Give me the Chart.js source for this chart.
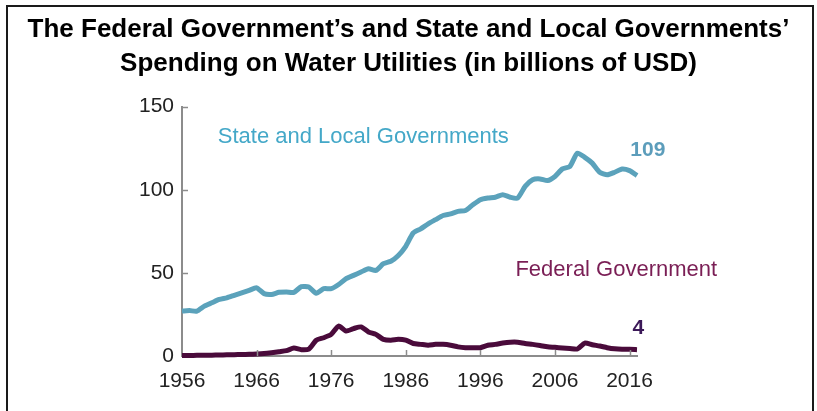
<!DOCTYPE html>
<html>
<head>
<meta charset="utf-8">
<script src="https://cdn.jsdelivr.net/npm/chart.js@4/dist/chart.umd.min.js"></script>
<style>
  html, body { margin: 0; padding: 0; background: #fff; }
  #wrap { position: relative; width: 817px; height: 411px; overflow: hidden; }
  #frame { position: absolute; left: 6px; top: 5px; width: 804px; height: 430px;
           border: 2px solid #1a1a1a; border-bottom: none; pointer-events: none; }
  canvas { position: absolute; left: 0; top: 0; }
</style>
</head>
<body>
<div id="wrap">
  <canvas id="chart" width="817" height="411"></canvas>
  <div id="frame"></div>
</div>
<script>
// years 1956..2017
const years = [];
for (let y = 1956; y <= 2017; y++) years.push(y);

// state and local spending, billions USD
const stateLocal = [
  27, 27.3, 27, 30, 32, 34, 35, 36.5, 38, 39.5,
  41, 37.5, 37, 38.3, 38.5, 38.3, 41.7, 41.5, 37.7, 40.5,
  40.5, 43, 46.5, 48.5, 50.5, 52.5, 51.5, 55.5, 57, 60.5,
  66, 74, 76.5, 79.5, 82, 84.5, 85.5, 87, 87.5, 91,
  94, 95, 95.5, 97, 95.5, 95, 102, 106, 106.5, 105.5,
  108, 112.5, 114, 122, 119.5, 116, 110.5, 109, 110.5, 112.5,
  111.5, 108.5
];

// federal spending, billions USD
const federal = [
  0.3, 0.3, 0.4, 0.5, 0.5, 0.6, 0.7, 0.8, 0.9, 1,
  1.2, 1.5, 2, 2.6, 3.2, 4.8, 3.8, 4.2, 9.5, 11,
  13, 18, 15, 16.5, 17.5, 14.5, 13, 10, 9.5, 10,
  9.5, 7.5, 7, 6.5, 7, 7, 6.5, 5.5, 5, 5,
  5, 6.5, 7, 7.8, 8.3, 8.3, 7.5, 7, 6.3, 5.5,
  5.2, 4.8, 4.5, 4.2, 7.8, 6.8, 6, 5, 4.3, 4,
  4, 3.8
];

const xTicks = [1956, 1966, 1976, 1986, 1996, 2006, 2016];
const yTicks = [0, 50, 100, 150];

const titleLines = [
  'The Federal Government\u2019s and State and Local Governments\u2019',
  'Spending on Water Utilities (in billions of USD)'
];

const tealLine = '#5ba2bb';
const plumLine = '#4a0b3b';

// text labels inside the plot, placed in data units
const notes = [
  { text: 'State and Local Governments', x: 1960.8, y: 131.5, color: '#44a8c8', bold: false, size: 22 },
  { text: '109', x: 2016.1, y: 123.6, color: '#5c9dbb', bold: true, size: 21 },
  { text: 'Federal Government', x: 2000.7, y: 51.8, color: '#7a1e55', bold: false, size: 22 },
  { text: '4', x: 2016.4, y: 16.8, color: '#3b1858', bold: true, size: 21 }
];

const fontFam = '"Liberation Sans", Arial, sans-serif';

// inner tick marks + text notes
const decor = {
  id: 'decor',
  afterDatasetsDraw(chart) {
    const ctx = chart.ctx;
    const xs = chart.scales.x, ys = chart.scales.y;
    const a = chart.chartArea;
    ctx.save();
    ctx.strokeStyle = '#8c8c8c';
    ctx.lineWidth = 1.5;
    xTicks.forEach(t => {
      if (t === 1956) return;
      const px = Math.round(xs.getPixelForValue(t)) + 0.5;
      ctx.beginPath(); ctx.moveTo(px, a.bottom); ctx.lineTo(px, a.bottom - 6); ctx.stroke();
    });
    yTicks.forEach(t => {
      if (t === 0) return;
      const py = Math.round(ys.getPixelForValue(t)) + 0.5;
      ctx.beginPath(); ctx.moveTo(a.left, py); ctx.lineTo(a.left + 6, py); ctx.stroke();
    });
    ctx.textAlign = 'left';
    ctx.textBaseline = 'middle';
    notes.forEach(n => {
      ctx.font = (n.bold ? 'bold ' : '') + n.size + 'px ' + fontFam;
      ctx.fillStyle = n.color;
      ctx.fillText(n.text, xs.getPixelForValue(n.x), ys.getPixelForValue(n.y));
    });
    ctx.restore();
  }
};

new Chart(document.getElementById('chart').getContext('2d'), {
  type: 'line',
  data: {
    datasets: [
      {
        label: 'State and Local Governments',
        data: years.map((y, i) => ({ x: y, y: stateLocal[i] })),
        borderColor: tealLine,
        borderWidth: 5,
        pointRadius: 0,
        tension: 0.2,
        fill: false
      },
      {
        label: 'Federal Government',
        data: years.map((y, i) => ({ x: y, y: federal[i] })),
        borderColor: plumLine,
        borderWidth: 5,
        pointRadius: 0,
        tension: 0.2,
        fill: false
      }
    ]
  },
  options: {
    responsive: false,
    animation: false,
    clip: false,
    layout: { padding: 0 },
    plugins: {
      legend: { display: false },
      tooltip: { enabled: false },
      title: {
        display: true,
        text: titleLines,
        color: '#000',
        font: { family: fontFam, size: 26, weight: 'bold', lineHeight: 1.3 },
        padding: { top: 13, bottom: 26 }
      }
    },
    scales: {
      x: {
        type: 'linear',
        min: 1956,
        max: 2017,
        afterBuildTicks: s => { s.ticks = xTicks.map(v => ({ value: v })); },
        afterFit: s => { s.height = 55; },
        grid: { display: false },
        border: { display: true, color: '#8c8c8c', width: 2 },
        ticks: {
          color: '#222',
          font: { family: fontFam, size: 21 },
          padding: 5,
          maxRotation: 0,
          callback: v => String(v)
        }
      },
      y: {
        min: 0,
        max: 150,
        afterBuildTicks: s => { s.ticks = yTicks.map(v => ({ value: v })); },
        afterFit: s => { s.width = 182; },
        grid: { display: false },
        border: { display: true, color: '#8c8c8c', width: 2 },
        ticks: {
          color: '#222',
          font: { family: fontFam, size: 21 },
          padding: 0
        }
      },
      // empty right-hand strip so the plot stops at 2017 while the title stays centred
      yRight: {
        position: 'right',
        display: true,
        afterFit: s => { s.width = 180; },
        grid: { display: false },
        border: { display: false },
        ticks: { display: false }
      }
    }
  },
  plugins: [decor]
});
</script>
</body>
</html>
